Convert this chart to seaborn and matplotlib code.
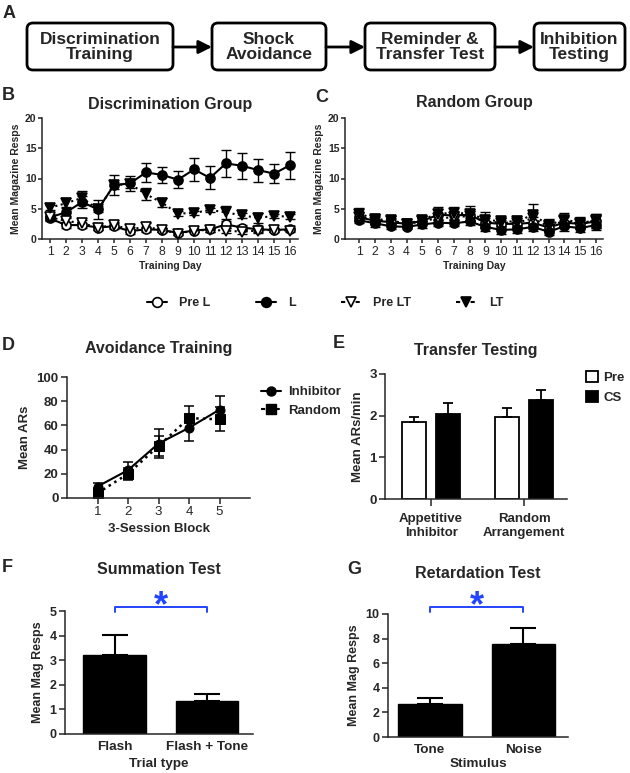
import numpy as np
import pandas as pd
import matplotlib
matplotlib.use("Agg")
import matplotlib.pyplot as plt
from matplotlib.lines import Line2D
from matplotlib.patches import FancyBboxPatch, Patch
import seaborn as sns

sns.set_style("ticks")
plt.rcParams['font.family'] = ['Liberation Sans', 'DejaVu Sans']
plt.rcParams['axes.linewidth'] = 1.1
plt.rcParams['xtick.major.width'] = 1.1
plt.rcParams['ytick.major.width'] = 1.1
plt.rcParams['xtick.major.size'] = 4
plt.rcParams['ytick.major.size'] = 4

# ---- data ----
stages = ["Discrimination\nTraining", "Shock\nAvoidance", "Reminder &\nTransfer Test", "Inhibition\nTesting"]

days = list(range(1, 17))
# Discrimination group
disc_pre_l = [3.4, 2.3, 2.3, 1.9, 2.1, 1.3, 1.6, 1.5, 1.0, 1.4, 1.6, 2.4, 1.9, 1.6, 1.5, 1.6]
disc_pre_l_err = [0.4, 0.5, 0.4, 0.4, 0.5, 0.4, 0.4, 0.3, 0.3, 0.3, 0.4, 0.6, 0.4, 0.4, 0.3, 0.3]
disc_l = [3.6, 4.4, 6.1, 4.9, 8.9, 9.2, 11.0, 10.6, 9.8, 11.5, 10.1, 12.5, 12.1, 11.4, 10.8, 12.2]
disc_l_err = [0.5, 0.9, 1.0, 1.6, 1.7, 1.2, 1.5, 1.3, 1.4, 1.9, 1.9, 2.2, 2.1, 1.9, 1.6, 2.2]
disc_pre_lt = [3.6, 3.0, 2.6, 1.9, 2.3, 1.6, 2.0, 1.5, 0.9, 1.4, 1.5, 1.4, 1.2, 1.4, 1.5, 1.4]
disc_pre_lt_err = [0.4, 0.6, 0.5, 0.4, 0.5, 0.4, 0.6, 0.4, 0.3, 0.3, 0.3, 0.4, 0.4, 0.4, 0.3, 0.3]
disc_lt = [5.2, 5.9, 6.8, 4.9, 8.9, 9.1, 7.4, 6.0, 4.2, 4.3, 4.8, 4.4, 3.9, 3.5, 3.8, 3.7]
disc_lt_err = [0.4, 0.8, 1.1, 0.5, 0.6, 0.7, 1.0, 0.7, 0.4, 0.4, 0.4, 1.1, 0.4, 0.8, 0.4, 0.4]
# Random group
rand_pre_l = [3.6, 3.0, 2.8, 2.5, 3.0, 4.0, 3.9, 4.0, 2.7, 2.5, 2.5, 2.7, 1.9, 2.7, 2.5, 2.9]
rand_pre_l_err = [0.7, 0.7, 0.5, 0.4, 0.5, 0.9, 0.8, 0.9, 0.8, 0.7, 0.6, 1.0, 0.6, 0.9, 0.6, 1.0]
rand_l = [3.1, 2.6, 2.1, 2.0, 2.4, 2.7, 2.6, 2.9, 2.0, 1.5, 1.6, 2.0, 1.2, 2.1, 1.8, 2.3]
rand_l_err = [0.5, 0.6, 0.5, 0.4, 0.5, 0.6, 0.5, 0.6, 0.6, 0.7, 0.6, 0.7, 0.5, 0.7, 0.6, 0.8]
rand_pre_lt = [3.7, 3.1, 2.9, 2.4, 3.0, 3.4, 3.6, 3.8, 2.9, 2.7, 2.7, 3.4, 2.1, 3.0, 2.5, 3.1]
rand_pre_lt_err = [0.8, 0.7, 0.6, 0.4, 0.5, 0.8, 0.8, 0.9, 0.9, 0.7, 0.7, 1.0, 0.7, 0.9, 0.7, 1.1]
rand_lt = [4.2, 3.3, 3.1, 2.5, 3.2, 4.2, 4.3, 4.2, 3.2, 2.9, 2.9, 4.0, 2.3, 3.2, 2.7, 3.0]
rand_lt_err = [1.0, 0.9, 0.7, 0.5, 0.6, 1.1, 1.0, 1.3, 1.2, 0.8, 0.9, 1.8, 1.0, 1.1, 0.9, 1.2]

# Avoidance training
blocks = [1, 2, 3, 4, 5]
avoid_inhib = [9.5, 23, 45, 58, 73]
avoid_inhib_err = [3, 7, 12, 11, 11]
avoid_rand = [4, 20, 43, 66, 65]
avoid_rand_err = [4, 5, 8, 10, 10]

# Transfer testing
transfer_groups = ["Appetitive\nInhibitor", "Random\nArrangement"]
transfer_pre = [1.85, 1.96]
transfer_pre_err = [0.12, 0.22]
transfer_cs = [2.03, 2.37]
transfer_cs_err = [0.27, 0.25]

# Summation / retardation
summ_trials = ["Flash", "Flash + Tone"]
summ_vals = [3.22, 1.35]
summ_err = [0.80, 0.28]
retard_stim = ["Tone", "Noise"]
retard_vals = [2.7, 7.6]
retard_err = [0.5, 1.3]

W, H = 630, 773
fig = plt.figure(figsize=(W / 100, H / 100), dpi=100)
star_blue = "#2244ff"


def rect(l, t, r, b):
    return [l / W, 1 - b / H, (r - l) / W, (b - t) / H]


def title(ax, text, y):
    pos = ax.get_position()
    fig.text(pos.x0 + pos.width / 2, 1 - y / H, text, ha="center", va="center",
             fontsize=11.5, fontweight="bold")


def style_ticks(ax, size, xbold=True):
    for lab in ax.get_yticklabels():
        lab.set_fontweight("bold")
        lab.set_fontsize(size)
    for lab in ax.get_xticklabels():
        lab.set_fontweight("bold" if xbold else "normal")
        lab.set_fontsize(size)


# ---- panel A: overview ----
axA = fig.add_axes([0, 0, 1, 1])
axA.set_xlim(0, W)
axA.set_ylim(H, 0)
axA.axis("off")
box_x = [(27, 173), (212, 326), (365, 495), (534, 625)]
for (x0, x1), s in zip(box_x, stages):
    axA.add_patch(FancyBboxPatch((x0, 23), x1 - x0, 47, boxstyle="round,pad=0,rounding_size=6",
                                 fc="white", ec="black", lw=2))
    axA.text((x0 + x1) / 2, 47, s, ha="center", va="center", fontsize=12.5,
             fontweight="bold", linespacing=1.0)
for (a, b) in zip(box_x[:-1], box_x[1:]):
    axA.annotate("", xy=(b[0], 47), xytext=(a[1], 47),
                 arrowprops=dict(arrowstyle="-|>", lw=2, color="black",
                                 mutation_scale=20, shrinkA=0, shrinkB=0))
for letter, x, y in [("A", 9, 13), ("B", 8, 96), ("C", 322, 97), ("D", 8, 345),
                     ("E", 339, 343), ("F", 7, 568), ("G", 354, 570)]:
    axA.text(x, y, letter, ha="center", va="center", fontsize=13, fontweight="bold")

# ---- panels B and C ----
series_style = [
    ("Pre L", "o", "white", "-"),
    ("L", "o", "black", "-"),
    ("Pre LT", "v", "white", ":"),
    ("LT", "v", "black", ":"),
]
disc_series = [(disc_pre_l, disc_pre_l_err), (disc_l, disc_l_err),
               (disc_pre_lt, disc_pre_lt_err), (disc_lt, disc_lt_err)]
rand_series = [(rand_pre_l, rand_pre_l_err), (rand_l, rand_l_err),
               (rand_pre_lt, rand_pre_lt_err), (rand_lt, rand_lt_err)]

axB = fig.add_axes(rect(42, 118, 298, 239))
axC = fig.add_axes(rect(345, 118, 603, 239))
for ax, series, name, ty in [(axB, disc_series, "Discrimination Group", 105),
                             (axC, rand_series, "Random Group", 103)]:
    order = [0, 2, 3, 1]
    for i in order:
        vals, err = series[i]
        lab, m, fc, ls = series_style[i]
        ax.errorbar(days, vals, yerr=err, fmt="none", ecolor="black", elinewidth=1.0,
                    capsize=3.5, capthick=1.0, zorder=2)
        sns.lineplot(x=days, y=vals, ax=ax, color="black", linestyle=ls, linewidth=1.5,
                     marker=m, markersize=6.5, markerfacecolor=fc, markeredgecolor="black",
                     markeredgewidth=1.2, zorder=3 + i)
    ax.set_ylim(0, 20)
    ax.set_yticks([0, 5, 10, 15, 20])
    ax.set_xticks(days)
    ax.set_xlabel("Training Day", fontsize=7.5, fontweight="bold", labelpad=2)
    ax.set_ylabel("Mean Magazine Resps", fontsize=7.5, fontweight="bold", labelpad=3)
    sns.despine(ax=ax)
    ax.tick_params(axis="x", length=3, pad=2)
    ax.tick_params(axis="y", length=3, pad=1)
    style_ticks(ax, 8.8, xbold=False)
    for lab in ax.get_yticklabels():
        lab.set_fontsize(7.5)
    title(ax, name, ty)
axB.set_xlim(0.5, 16.5)
axC.set_xlim(0.1, 16.45)

handles = [Line2D([], [], color="black", linestyle="-" if ls == "-" else (0, (2, 1.5)),
                  linewidth=1.5, marker=m, markersize=7, markerfacecolor=fc,
                  markeredgecolor="black", markeredgewidth=1.2)
           for lab, m, fc, ls in series_style]
fig.legend(handles, [s[0] for s in series_style], loc="center",
           bbox_to_anchor=(325 / W, 1 - 303 / H), ncol=4, frameon=False,
           handlelength=1.6, handletextpad=1.0, columnspacing=3.6,
           prop=dict(weight="bold", size=9))

# ---- panel D: avoidance training ----
axD = fig.add_axes(rect(67, 377, 250, 498))
axD.errorbar(blocks, avoid_rand, yerr=avoid_rand_err, fmt="none", ecolor="black",
             elinewidth=1.1, capsize=3.5, capthick=1.1)
axD.errorbar(blocks, avoid_inhib, yerr=avoid_inhib_err, fmt="none", ecolor="black",
             elinewidth=1.1, capsize=3.5, capthick=1.1)
sns.lineplot(x=blocks, y=avoid_rand, ax=axD, color="black", linestyle=":", linewidth=1.8,
             marker="s", markersize=6.5, markeredgecolor="black", label="Random", legend=False)
sns.lineplot(x=blocks, y=avoid_inhib, ax=axD, color="black", linestyle="-", linewidth=1.5,
             marker="o", markersize=6.5, markeredgecolor="black", label="Inhibitor", legend=False)
axD.set_xlim(0, 6)
axD.set_ylim(0, 100)
axD.set_xticks(blocks)
axD.set_yticks(range(0, 101, 20))
axD.set_xlabel("3-Session Block", fontsize=9.5, fontweight="bold", labelpad=3)
axD.set_ylabel("Mean ARs", fontsize=9.5, fontweight="bold")
sns.despine(ax=axD)
axD.tick_params(axis="both", pad=2)
style_ticks(axD, 9.5, xbold=False)
title(axD, "Avoidance Training", 349)
hD = [Line2D([], [], color="black", linestyle="-", lw=1.5, marker="o", markersize=6.5),
      Line2D([], [], color="black", linestyle=(0, (2, 1.5)), lw=1.5, marker="s", markersize=6.5)]
axD.legend(hD, ["Inhibitor", "Random"], loc="upper left", bbox_to_anchor=(1.03, 0.97),
           frameon=False, handlelength=1.5, handletextpad=0.6, labelspacing=0.5,
           prop=dict(weight="bold", size=9.5), borderaxespad=0)

# ---- panel E: transfer testing ----
axE = fig.add_axes(rect(385, 374, 567, 499))
dfE = pd.DataFrame({
    "group": transfer_groups * 2,
    "cond": ["Pre"] * 2 + ["CS"] * 2,
    "value": transfer_pre + transfer_cs,
})
sns.barplot(data=dfE, x="group", y="value", hue="cond", palette=["white", "black"],
            edgecolor="black", linewidth=1.3, width=0.72, gap=0.28, saturation=1,
            errorbar=None, legend=False, ax=axE)
for cont, errs in zip(axE.containers, [transfer_pre_err, transfer_cs_err]):
    xs = [b.get_x() + b.get_width() / 2 for b in cont]
    ys = [b.get_height() for b in cont]
    axE.errorbar(xs, ys, yerr=[[0] * len(errs), errs], fmt="none", ecolor="black",
                 elinewidth=1.3, capsize=3.8, capthick=1.3, zorder=1)
axE.set_xlim(-0.495, 1.46)
axE.set_ylim(0, 3)
axE.set_yticks([0, 1, 2, 3])
axE.set_xlabel("")
axE.set_ylabel("Mean ARs/min", fontsize=9.5, fontweight="bold")
sns.despine(ax=axE)
axE.tick_params(axis="x", length=5, pad=5)
axE.tick_params(axis="y", pad=2)
style_ticks(axE, 9.5)
title(axE, "Transfer Testing", 350)
hE = [Patch(facecolor="white", edgecolor="black", lw=1.3),
      Patch(facecolor="black", edgecolor="black", lw=1.3)]
axE.legend(hE, ["Pre", "CS"], loc="upper left", bbox_to_anchor=(1.075, 1.07), frameon=False,
           handlelength=0.95, handleheight=1.0, handletextpad=0.35, labelspacing=0.5,
           prop=dict(weight="bold", size=9.5), borderaxespad=0)


# ---- panels F and G ----
def bar_panel(ax, cats, vals, errs, ymax, step, xlim, xlabel, name, ty, bracket_y, tick_y, lpad):
    sns.barplot(x=cats, y=vals, color="black", edgecolor="black", width=0.68, saturation=1,
                errorbar=None, ax=ax)
    cont = ax.containers[0]
    xs = [b.get_x() + b.get_width() / 2 for b in cont]
    ax.errorbar(xs, vals, yerr=[[0] * len(errs), errs], fmt="none", ecolor="black",
                elinewidth=1.5, capsize=9.5, capthick=1.5, zorder=1)
    ax.set_xlim(*xlim)
    ax.set_ylim(0, ymax)
    ax.set_yticks(np.arange(0, ymax + step / 2, step))
    ax.set_xlabel(xlabel, fontsize=9.7, fontweight="bold", labelpad=lpad)
    ax.set_ylabel("Mean Mag Resps", fontsize=9, fontweight="bold")
    sns.despine(ax=ax)
    ax.tick_params(axis="x", length=0, pad=5)
    ax.tick_params(axis="y", pad=2)
    style_ticks(ax, 9)
    for lab in ax.get_xticklabels():
        lab.set_fontsize(9.7)
    title(ax, name, ty)
    ax.plot([xs[0], xs[0], xs[1], xs[1]], [tick_y, bracket_y, bracket_y, tick_y],
            color=star_blue, lw=1.4, clip_on=False)
    ax.text((xs[0] + xs[1]) / 2, bracket_y, "*", ha="center", va="center",
            fontsize=26, fontweight="bold", color=star_blue, clip_on=False)


axF = fig.add_axes(rect(65, 611, 253, 734))
bar_panel(axF, summ_trials, summ_vals, summ_err, 5, 1, (-0.54, 1.5), "Trial type",
          "Summation Test", 569, 5.16, 4.96, 4)
axG = fig.add_axes(rect(388, 614, 568, 737))
bar_panel(axG, retard_stim, retard_vals, retard_err, 10, 2, (-0.45, 1.48), "Stimulus",
          "Retardation Test", 574, 10.57, 10.15, 1.5)

fig.savefig("out.png", dpi=100)
